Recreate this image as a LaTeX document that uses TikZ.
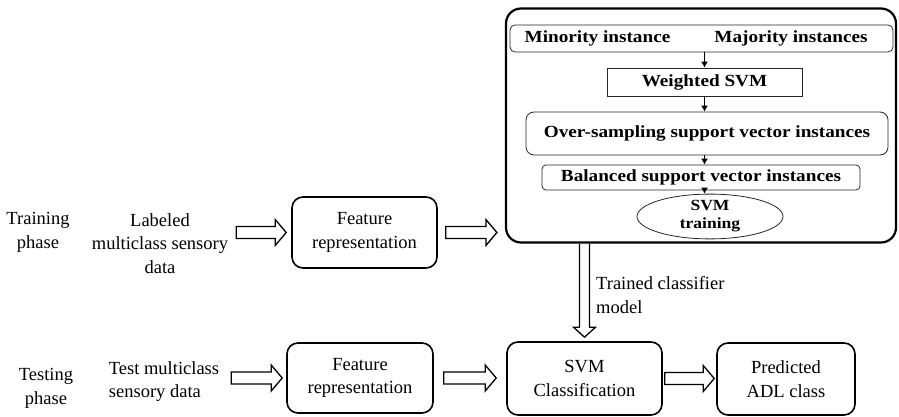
\documentclass[tikz,border=0pt]{standalone}
\usepackage{fontspec}
\setmainfont{Liberation Serif}
\newfontfamily\boxfont[FakeStretch=1.13]{Liberation Serif}
\usetikzlibrary{calc,shapes.geometric,arrows.meta}
\tikzset{
  outertext/.style={inner sep=0pt, align=center, font=\fontsize{18.5}{23.5}\selectfont},
  bigbox/.style={draw, line width=1.6pt, rounded corners=11pt, minimum width=#1, inner sep=0pt, align=center, font=\fontsize{18.5}{23.5}\selectfont},
  innerbox/.style={draw=black!85, line width=0.8pt, inner sep=0pt, font=\boxfont\bfseries\fontsize{17}{20}\selectfont},
  fat/.style={draw, line width=1.3pt, line join=miter},
  thinarr/.style={draw, line width=1.1pt, -{Latex[length=6pt,width=7pt]}}
}
\newcommand\harrow[2]{\draw[fat] let \p1=(#1),\p2=(#2) in (\x1,\y1-6pt) -- (\x2-11pt,\y1-6pt) -- (\x2-11pt,\y1-13pt) -- (\x2,\y1) -- (\x2-11pt,\y1+13pt) -- (\x2-11pt,\y1+6pt) -- (\x1,\y1+6pt) -- cycle;}
\newcommand\varrow[2]{\draw[fat] let \p1=(#1),\p2=(#2) in (\x1-5pt,\y1) -- (\x1-5pt,\y2+10pt) -- (\x1-11pt,\y2+10pt) -- (\x1,\y2) -- (\x1+11pt,\y2+10pt) -- (\x1+5pt,\y2+10pt) -- (\x1+5pt,\y1);}
\begin{document}
\begin{tikzpicture}[x=1pt,y=-1pt]
\useasboundingbox (0,0) rectangle (899,417);
% big training box
\node[draw, line width=2.2pt, rounded corners=15pt, minimum width=390pt, minimum height=234pt, inner sep=0pt] (big) at (701,125.5) {};
\node[innerbox, rounded corners=5pt, minimum width=383pt, minimum height=27pt] (mm) at (701.5,38.5) {};
\node[innerbox, draw=none] (mino) at (597.5,38) {Minority instance};
\node[innerbox, draw=none] (majo) at (791,38) {Majority instances};
\node[innerbox, minimum width=195pt, minimum height=28pt] (ws) at (704.5,82) {Weighted SVM};
\node[innerbox, rounded corners=8pt, minimum width=362pt, minimum height=43pt] (os) at (707,133.5) {Over-sampling support vector instances};
\node[innerbox, rounded corners=4pt, minimum width=318pt, minimum height=25pt] (bal) at (701,177.5) {Balanced support vector instances};
\node[innerbox, ellipse, minimum width=146pt, minimum height=33pt, align=center, font=\boxfont\bfseries\fontsize{15.5}{18}\selectfont] (svmt) at (710,216.5) {SVM\\training};
\draw[thinarr] (ws.north |- mm.south) -- (ws.north);
\draw[thinarr] (ws.south) -- (ws.south |- os.north);
\draw[thinarr] (os.south -| ws.south) -- (bal.north -| ws.south);
\draw[thinarr] (bal.south -| ws.south) -- (svmt.north -| ws.south);
% training row
\node[outertext] (trp) at (38,232.5) {Training\\phase};
\node[outertext] (lab) at (160,243.5) {Labeled\\multiclass sensory\\data};
\node[bigbox=145pt, minimum height=71pt] (fr1) at (364.5,232.5) {Feature\\representation};
\harrow{$(fr1.west)+(-55,0)$}{$(fr1.west)+(-5,0)$}
\harrow{$(fr1.east)+(8,0)$}{$(big.west |- fr1.east)+(-8,0)$}
% testing row
\node[outertext] (tep) at (46,388.5) {Testing\\phase};
\node[outertext, align=left] (tst) at (164,381.5) {Test multiclass\\sensory data};
\node[bigbox=146pt, minimum height=70pt] (fr2) at (360,378) {Feature\\representation};
\node[bigbox=155pt, minimum height=73pt] (svm) at (584.5,378.5) {SVM\\Classification};
\node[bigbox=138pt, minimum height=72pt] (pred) at (786,379) {Predicted\\ADL class};
\harrow{$(fr2.west)+(-55,0)$}{$(fr2.west)+(-4,0)$}
\harrow{$(fr2.east)+(10,0)$}{$(svm.west)+(-10,0)$}
\harrow{$(svm.east)+(2,0)$}{$(pred.west)+(-2,0)$}
\varrow{big.south -| svm.north}{$(svm.north)+(0,-4)$}
\node[outertext, align=left, anchor=west] (tcm) at (596,295) {Trained classifier\\model};
\end{tikzpicture}
\end{document}
